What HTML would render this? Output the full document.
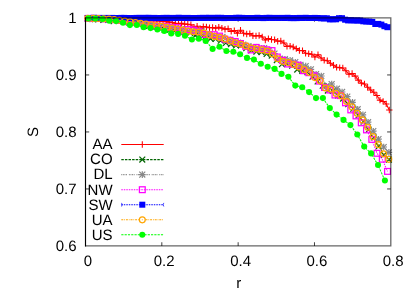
<!DOCTYPE html>
<html><head><meta charset="utf-8"><title>S vs r</title>
<style>
html,body{margin:0;padding:0;background:#fff;}
body{width:415px;height:291px;overflow:hidden;position:relative;font-family:"Liberation Sans",sans-serif;}
.t{font-family:"Liberation Sans",sans-serif;font-size:15px;fill:#000;text-rendering:geometricPrecision;}
</style></head><body>
<svg width="415" height="291" viewBox="0 0 415 291" style="position:absolute;left:0;top:0;will-change:transform">
<rect width="415" height="291" fill="#fff"/>
<path d="M161.82,17.95v3.7M238.15,17.95v3.7M314.48,17.95v3.7" fill="none" stroke="rgba(0,0,0,0.75)" stroke-width="1"/>
<path d="M88.6,18.2 L91.7,18.2 L94.8,18.3 L97.9,18.4 L101.0,18.5 L104.1,18.5 L107.2,18.6 L110.3,18.7 L113.4,18.7 L116.5,18.8 L119.6,18.9 L122.7,19.1 L125.8,19.1 L128.9,19.2 L132.0,19.2 L135.1,19.6 L138.2,19.8 L141.3,20.0 L144.4,19.8 L147.5,20.9 L150.6,20.8 L153.7,20.6 L156.8,20.6 L159.9,21.0 L163.0,21.4 L166.1,21.6 L169.2,22.1 L172.3,22.6 L175.4,23.2 L178.5,23.4 L181.6,23.2 L184.7,24.1 L187.8,24.2 L190.9,24.7 L194.0,27.3 L197.1,26.2 L200.2,28.8 L203.3,26.6 L206.4,26.9 L209.5,27.7 L212.6,27.5 L215.7,28.2 L218.8,27.2 L221.9,28.1 L225.0,29.3 L228.1,28.8 L231.2,31.4 L234.3,30.6 L237.4,33.2 L240.5,30.2 L243.6,33.2 L246.7,34.0 L249.8,33.6 L252.9,35.7 L256.0,35.9 L259.1,35.5 L262.2,36.9 L265.3,40.0 L268.4,38.6 L271.5,39.5 L274.6,39.8 L277.7,41.3 L280.8,41.0 L283.9,43.0 L287.0,46.4 L290.1,46.1 L293.2,47.0 L296.3,48.6 L299.4,50.5 L302.5,50.6 L305.6,53.3 L308.7,53.7 L311.8,54.3 L314.9,57.0 L318.0,54.8 L321.1,58.0 L324.2,60.3 L327.3,60.8 L330.4,63.3 L333.5,65.2 L336.6,67.2 L339.7,67.6 L342.8,67.9 L345.9,70.8 L349.0,74.3 L352.1,73.5 L355.2,76.1 L358.3,80.1 L361.4,83.1 L364.5,83.9 L367.6,87.2 L370.7,90.0 L373.8,92.3 L376.9,95.5 L380.0,100.1 L383.1,101.4 L386.2,103.9 L389.3,110.0" fill="none" stroke="#ff0000" stroke-width="1.05"/>
<path d="M85.4,18.2h6.4M88.6,15.0v6.4" stroke="#ff0000" stroke-width="1.05" fill="none"/><path d="M88.5,18.2h6.4M91.7,15.0v6.4" stroke="#ff0000" stroke-width="1.05" fill="none"/><path d="M91.6,18.3h6.4M94.8,15.1v6.4" stroke="#ff0000" stroke-width="1.05" fill="none"/><path d="M94.7,18.4h6.4M97.9,15.2v6.4" stroke="#ff0000" stroke-width="1.05" fill="none"/><path d="M97.8,18.5h6.4M101.0,15.3v6.4" stroke="#ff0000" stroke-width="1.05" fill="none"/><path d="M100.9,18.5h6.4M104.1,15.3v6.4" stroke="#ff0000" stroke-width="1.05" fill="none"/><path d="M104.0,18.6h6.4M107.2,15.4v6.4" stroke="#ff0000" stroke-width="1.05" fill="none"/><path d="M107.1,18.7h6.4M110.3,15.5v6.4" stroke="#ff0000" stroke-width="1.05" fill="none"/><path d="M110.2,18.7h6.4M113.4,15.5v6.4" stroke="#ff0000" stroke-width="1.05" fill="none"/><path d="M113.3,18.8h6.4M116.5,15.6v6.4" stroke="#ff0000" stroke-width="1.05" fill="none"/><path d="M116.4,18.9h6.4M119.6,15.7v6.4" stroke="#ff0000" stroke-width="1.05" fill="none"/><path d="M119.5,19.1h6.4M122.7,15.9v6.4" stroke="#ff0000" stroke-width="1.05" fill="none"/><path d="M122.6,19.1h6.4M125.8,15.9v6.4" stroke="#ff0000" stroke-width="1.05" fill="none"/><path d="M125.7,19.2h6.4M128.9,16.0v6.4" stroke="#ff0000" stroke-width="1.05" fill="none"/><path d="M128.8,19.2h6.4M132.0,16.0v6.4" stroke="#ff0000" stroke-width="1.05" fill="none"/><path d="M131.9,19.6h6.4M135.1,16.4v6.4" stroke="#ff0000" stroke-width="1.05" fill="none"/><path d="M135.0,19.8h6.4M138.2,16.6v6.4" stroke="#ff0000" stroke-width="1.05" fill="none"/><path d="M138.1,20.0h6.4M141.3,16.8v6.4" stroke="#ff0000" stroke-width="1.05" fill="none"/><path d="M141.2,19.8h6.4M144.4,16.6v6.4" stroke="#ff0000" stroke-width="1.05" fill="none"/><path d="M144.3,20.9h6.4M147.5,17.7v6.4" stroke="#ff0000" stroke-width="1.05" fill="none"/><path d="M147.4,20.8h6.4M150.6,17.6v6.4" stroke="#ff0000" stroke-width="1.05" fill="none"/><path d="M150.5,20.6h6.4M153.7,17.4v6.4" stroke="#ff0000" stroke-width="1.05" fill="none"/><path d="M153.6,20.6h6.4M156.8,17.4v6.4" stroke="#ff0000" stroke-width="1.05" fill="none"/><path d="M156.7,21.0h6.4M159.9,17.8v6.4" stroke="#ff0000" stroke-width="1.05" fill="none"/><path d="M159.8,21.4h6.4M163.0,18.2v6.4" stroke="#ff0000" stroke-width="1.05" fill="none"/><path d="M162.9,21.6h6.4M166.1,18.4v6.4" stroke="#ff0000" stroke-width="1.05" fill="none"/><path d="M166.0,22.1h6.4M169.2,18.9v6.4" stroke="#ff0000" stroke-width="1.05" fill="none"/><path d="M169.1,22.6h6.4M172.3,19.4v6.4" stroke="#ff0000" stroke-width="1.05" fill="none"/><path d="M172.2,23.2h6.4M175.4,20.0v6.4" stroke="#ff0000" stroke-width="1.05" fill="none"/><path d="M175.3,23.4h6.4M178.5,20.2v6.4" stroke="#ff0000" stroke-width="1.05" fill="none"/><path d="M178.4,23.2h6.4M181.6,20.0v6.4" stroke="#ff0000" stroke-width="1.05" fill="none"/><path d="M181.5,24.1h6.4M184.7,20.9v6.4" stroke="#ff0000" stroke-width="1.05" fill="none"/><path d="M184.6,24.2h6.4M187.8,21.0v6.4" stroke="#ff0000" stroke-width="1.05" fill="none"/><path d="M187.7,24.7h6.4M190.9,21.5v6.4" stroke="#ff0000" stroke-width="1.05" fill="none"/><path d="M190.8,27.3h6.4M194.0,24.1v6.4" stroke="#ff0000" stroke-width="1.05" fill="none"/><path d="M193.9,26.2h6.4M197.1,23.0v6.4" stroke="#ff0000" stroke-width="1.05" fill="none"/><path d="M197.0,28.8h6.4M200.2,25.6v6.4" stroke="#ff0000" stroke-width="1.05" fill="none"/><path d="M200.1,26.6h6.4M203.3,23.4v6.4" stroke="#ff0000" stroke-width="1.05" fill="none"/><path d="M203.2,26.9h6.4M206.4,23.7v6.4" stroke="#ff0000" stroke-width="1.05" fill="none"/><path d="M206.3,27.7h6.4M209.5,24.5v6.4" stroke="#ff0000" stroke-width="1.05" fill="none"/><path d="M209.4,27.5h6.4M212.6,24.3v6.4" stroke="#ff0000" stroke-width="1.05" fill="none"/><path d="M212.5,28.2h6.4M215.7,25.0v6.4" stroke="#ff0000" stroke-width="1.05" fill="none"/><path d="M215.6,27.2h6.4M218.8,24.0v6.4" stroke="#ff0000" stroke-width="1.05" fill="none"/><path d="M218.7,28.1h6.4M221.9,24.9v6.4" stroke="#ff0000" stroke-width="1.05" fill="none"/><path d="M221.8,29.3h6.4M225.0,26.1v6.4" stroke="#ff0000" stroke-width="1.05" fill="none"/><path d="M224.9,28.8h6.4M228.1,25.6v6.4" stroke="#ff0000" stroke-width="1.05" fill="none"/><path d="M228.0,31.4h6.4M231.2,28.2v6.4" stroke="#ff0000" stroke-width="1.05" fill="none"/><path d="M231.1,30.6h6.4M234.3,27.4v6.4" stroke="#ff0000" stroke-width="1.05" fill="none"/><path d="M234.2,33.2h6.4M237.4,30.0v6.4" stroke="#ff0000" stroke-width="1.05" fill="none"/><path d="M237.3,30.2h6.4M240.5,27.0v6.4" stroke="#ff0000" stroke-width="1.05" fill="none"/><path d="M240.4,33.2h6.4M243.6,30.0v6.4" stroke="#ff0000" stroke-width="1.05" fill="none"/><path d="M243.5,34.0h6.4M246.7,30.8v6.4" stroke="#ff0000" stroke-width="1.05" fill="none"/><path d="M246.6,33.6h6.4M249.8,30.4v6.4" stroke="#ff0000" stroke-width="1.05" fill="none"/><path d="M249.7,35.7h6.4M252.9,32.5v6.4" stroke="#ff0000" stroke-width="1.05" fill="none"/><path d="M252.8,35.9h6.4M256.0,32.7v6.4" stroke="#ff0000" stroke-width="1.05" fill="none"/><path d="M255.9,35.5h6.4M259.1,32.3v6.4" stroke="#ff0000" stroke-width="1.05" fill="none"/><path d="M259.0,36.9h6.4M262.2,33.7v6.4" stroke="#ff0000" stroke-width="1.05" fill="none"/><path d="M262.1,40.0h6.4M265.3,36.8v6.4" stroke="#ff0000" stroke-width="1.05" fill="none"/><path d="M265.2,38.6h6.4M268.4,35.4v6.4" stroke="#ff0000" stroke-width="1.05" fill="none"/><path d="M268.3,39.5h6.4M271.5,36.3v6.4" stroke="#ff0000" stroke-width="1.05" fill="none"/><path d="M271.4,39.8h6.4M274.6,36.6v6.4" stroke="#ff0000" stroke-width="1.05" fill="none"/><path d="M274.5,41.3h6.4M277.7,38.1v6.4" stroke="#ff0000" stroke-width="1.05" fill="none"/><path d="M277.6,41.0h6.4M280.8,37.8v6.4" stroke="#ff0000" stroke-width="1.05" fill="none"/><path d="M280.7,43.0h6.4M283.9,39.8v6.4" stroke="#ff0000" stroke-width="1.05" fill="none"/><path d="M283.8,46.4h6.4M287.0,43.2v6.4" stroke="#ff0000" stroke-width="1.05" fill="none"/><path d="M286.9,46.1h6.4M290.1,42.9v6.4" stroke="#ff0000" stroke-width="1.05" fill="none"/><path d="M290.0,47.0h6.4M293.2,43.8v6.4" stroke="#ff0000" stroke-width="1.05" fill="none"/><path d="M293.1,48.6h6.4M296.3,45.4v6.4" stroke="#ff0000" stroke-width="1.05" fill="none"/><path d="M296.2,50.5h6.4M299.4,47.3v6.4" stroke="#ff0000" stroke-width="1.05" fill="none"/><path d="M299.3,50.6h6.4M302.5,47.4v6.4" stroke="#ff0000" stroke-width="1.05" fill="none"/><path d="M302.4,53.3h6.4M305.6,50.1v6.4" stroke="#ff0000" stroke-width="1.05" fill="none"/><path d="M305.5,53.7h6.4M308.7,50.5v6.4" stroke="#ff0000" stroke-width="1.05" fill="none"/><path d="M308.6,54.3h6.4M311.8,51.1v6.4" stroke="#ff0000" stroke-width="1.05" fill="none"/><path d="M311.7,57.0h6.4M314.9,53.8v6.4" stroke="#ff0000" stroke-width="1.05" fill="none"/><path d="M314.8,54.8h6.4M318.0,51.6v6.4" stroke="#ff0000" stroke-width="1.05" fill="none"/><path d="M317.9,58.0h6.4M321.1,54.8v6.4" stroke="#ff0000" stroke-width="1.05" fill="none"/><path d="M321.0,60.3h6.4M324.2,57.1v6.4" stroke="#ff0000" stroke-width="1.05" fill="none"/><path d="M324.1,60.8h6.4M327.3,57.6v6.4" stroke="#ff0000" stroke-width="1.05" fill="none"/><path d="M327.2,63.3h6.4M330.4,60.1v6.4" stroke="#ff0000" stroke-width="1.05" fill="none"/><path d="M330.3,65.2h6.4M333.5,62.0v6.4" stroke="#ff0000" stroke-width="1.05" fill="none"/><path d="M333.4,67.2h6.4M336.6,64.0v6.4" stroke="#ff0000" stroke-width="1.05" fill="none"/><path d="M336.5,67.6h6.4M339.7,64.4v6.4" stroke="#ff0000" stroke-width="1.05" fill="none"/><path d="M339.6,67.9h6.4M342.8,64.7v6.4" stroke="#ff0000" stroke-width="1.05" fill="none"/><path d="M342.7,70.8h6.4M345.9,67.6v6.4" stroke="#ff0000" stroke-width="1.05" fill="none"/><path d="M345.8,74.3h6.4M349.0,71.1v6.4" stroke="#ff0000" stroke-width="1.05" fill="none"/><path d="M348.9,73.5h6.4M352.1,70.3v6.4" stroke="#ff0000" stroke-width="1.05" fill="none"/><path d="M352.0,76.1h6.4M355.2,72.9v6.4" stroke="#ff0000" stroke-width="1.05" fill="none"/><path d="M355.1,80.1h6.4M358.3,76.9v6.4" stroke="#ff0000" stroke-width="1.05" fill="none"/><path d="M358.2,83.1h6.4M361.4,79.9v6.4" stroke="#ff0000" stroke-width="1.05" fill="none"/><path d="M361.3,83.9h6.4M364.5,80.7v6.4" stroke="#ff0000" stroke-width="1.05" fill="none"/><path d="M364.4,87.2h6.4M367.6,84.0v6.4" stroke="#ff0000" stroke-width="1.05" fill="none"/><path d="M367.5,90.0h6.4M370.7,86.8v6.4" stroke="#ff0000" stroke-width="1.05" fill="none"/><path d="M370.6,92.3h6.4M373.8,89.1v6.4" stroke="#ff0000" stroke-width="1.05" fill="none"/><path d="M373.7,95.5h6.4M376.9,92.3v6.4" stroke="#ff0000" stroke-width="1.05" fill="none"/><path d="M376.8,100.1h6.4M380.0,96.9v6.4" stroke="#ff0000" stroke-width="1.05" fill="none"/><path d="M379.9,101.4h6.4M383.1,98.2v6.4" stroke="#ff0000" stroke-width="1.05" fill="none"/><path d="M383.0,103.9h6.4M386.2,100.7v6.4" stroke="#ff0000" stroke-width="1.05" fill="none"/><path d="M386.1,110.0h6.4M389.3,106.8v6.4" stroke="#ff0000" stroke-width="1.05" fill="none"/>
<path d="M121.3,144.5 L163.7,144.5" fill="none" stroke="#ff0000" stroke-width="1.05"/>
<path d="M139.1,144.5h6.4M142.3,141.3v6.4" stroke="#ff0000" stroke-width="1.05" fill="none"/>
<text x="112.6" y="149.3" text-anchor="end" class="t">AA</text>
<path d="M88.1,18.3 L93.2,18.3 L98.3,19.4 L103.4,19.9 L108.5,19.3 L113.6,21.2 L118.7,20.3 L123.8,21.6 L128.9,22.4 L134.0,22.4 L139.1,24.2 L144.2,26.0 L149.3,24.7 L154.4,27.0 L159.5,27.2 L164.6,29.6 L169.7,29.8 L174.8,31.1 L179.9,32.2 L185.0,33.0 L190.1,33.0 L195.2,35.6 L200.3,34.2 L205.4,36.8 L210.5,38.8 L215.6,39.0 L220.7,40.7 L225.8,43.0 L230.9,44.2 L236.0,45.4 L241.1,45.3 L246.2,48.2 L251.3,50.5 L256.4,51.7 L261.5,52.1 L266.6,53.9 L271.7,55.6 L276.8,60.1 L281.9,64.2 L287.0,64.0 L292.1,65.7 L297.2,69.6 L302.3,71.0 L307.4,72.2 L312.5,76.7 L317.6,81.5 L322.7,85.8 L327.8,90.6 L332.9,91.0 L338.0,95.5 L343.1,98.6 L348.2,104.3 L353.3,108.8 L358.4,115.4 L363.5,121.6 L368.6,129.7 L373.7,137.5 L378.8,146.1 L383.9,154.9 L389.0,159.6" fill="none" stroke="#006400" stroke-width="1.05" stroke-dasharray="2.5,1.1"/>
<path d="M85.2,15.4l5.8,5.8M85.2,21.2l5.8,-5.8" stroke="#006400" stroke-width="1.2" fill="none"/><path d="M90.3,15.4l5.8,5.8M90.3,21.2l5.8,-5.8" stroke="#006400" stroke-width="1.2" fill="none"/><path d="M95.4,16.5l5.8,5.8M95.4,22.3l5.8,-5.8" stroke="#006400" stroke-width="1.2" fill="none"/><path d="M100.5,17.0l5.8,5.8M100.5,22.8l5.8,-5.8" stroke="#006400" stroke-width="1.2" fill="none"/><path d="M105.6,16.4l5.8,5.8M105.6,22.2l5.8,-5.8" stroke="#006400" stroke-width="1.2" fill="none"/><path d="M110.7,18.3l5.8,5.8M110.7,24.1l5.8,-5.8" stroke="#006400" stroke-width="1.2" fill="none"/><path d="M115.8,17.4l5.8,5.8M115.8,23.2l5.8,-5.8" stroke="#006400" stroke-width="1.2" fill="none"/><path d="M120.9,18.7l5.8,5.8M120.9,24.5l5.8,-5.8" stroke="#006400" stroke-width="1.2" fill="none"/><path d="M126.0,19.5l5.8,5.8M126.0,25.3l5.8,-5.8" stroke="#006400" stroke-width="1.2" fill="none"/><path d="M131.1,19.5l5.8,5.8M131.1,25.3l5.8,-5.8" stroke="#006400" stroke-width="1.2" fill="none"/><path d="M136.2,21.3l5.8,5.8M136.2,27.1l5.8,-5.8" stroke="#006400" stroke-width="1.2" fill="none"/><path d="M141.3,23.1l5.8,5.8M141.3,28.9l5.8,-5.8" stroke="#006400" stroke-width="1.2" fill="none"/><path d="M146.4,21.8l5.8,5.8M146.4,27.6l5.8,-5.8" stroke="#006400" stroke-width="1.2" fill="none"/><path d="M151.5,24.1l5.8,5.8M151.5,29.9l5.8,-5.8" stroke="#006400" stroke-width="1.2" fill="none"/><path d="M156.6,24.3l5.8,5.8M156.6,30.1l5.8,-5.8" stroke="#006400" stroke-width="1.2" fill="none"/><path d="M161.7,26.7l5.8,5.8M161.7,32.5l5.8,-5.8" stroke="#006400" stroke-width="1.2" fill="none"/><path d="M166.8,26.9l5.8,5.8M166.8,32.7l5.8,-5.8" stroke="#006400" stroke-width="1.2" fill="none"/><path d="M171.9,28.2l5.8,5.8M171.9,34.0l5.8,-5.8" stroke="#006400" stroke-width="1.2" fill="none"/><path d="M177.0,29.3l5.8,5.8M177.0,35.1l5.8,-5.8" stroke="#006400" stroke-width="1.2" fill="none"/><path d="M182.1,30.1l5.8,5.8M182.1,35.9l5.8,-5.8" stroke="#006400" stroke-width="1.2" fill="none"/><path d="M187.2,30.1l5.8,5.8M187.2,35.9l5.8,-5.8" stroke="#006400" stroke-width="1.2" fill="none"/><path d="M192.3,32.7l5.8,5.8M192.3,38.5l5.8,-5.8" stroke="#006400" stroke-width="1.2" fill="none"/><path d="M197.4,31.3l5.8,5.8M197.4,37.1l5.8,-5.8" stroke="#006400" stroke-width="1.2" fill="none"/><path d="M202.5,33.9l5.8,5.8M202.5,39.7l5.8,-5.8" stroke="#006400" stroke-width="1.2" fill="none"/><path d="M207.6,35.9l5.8,5.8M207.6,41.7l5.8,-5.8" stroke="#006400" stroke-width="1.2" fill="none"/><path d="M212.7,36.1l5.8,5.8M212.7,41.9l5.8,-5.8" stroke="#006400" stroke-width="1.2" fill="none"/><path d="M217.8,37.8l5.8,5.8M217.8,43.6l5.8,-5.8" stroke="#006400" stroke-width="1.2" fill="none"/><path d="M222.9,40.1l5.8,5.8M222.9,45.9l5.8,-5.8" stroke="#006400" stroke-width="1.2" fill="none"/><path d="M228.0,41.3l5.8,5.8M228.0,47.1l5.8,-5.8" stroke="#006400" stroke-width="1.2" fill="none"/><path d="M233.1,42.5l5.8,5.8M233.1,48.3l5.8,-5.8" stroke="#006400" stroke-width="1.2" fill="none"/><path d="M238.2,42.4l5.8,5.8M238.2,48.2l5.8,-5.8" stroke="#006400" stroke-width="1.2" fill="none"/><path d="M243.3,45.3l5.8,5.8M243.3,51.1l5.8,-5.8" stroke="#006400" stroke-width="1.2" fill="none"/><path d="M248.4,47.6l5.8,5.8M248.4,53.4l5.8,-5.8" stroke="#006400" stroke-width="1.2" fill="none"/><path d="M253.5,48.8l5.8,5.8M253.5,54.6l5.8,-5.8" stroke="#006400" stroke-width="1.2" fill="none"/><path d="M258.6,49.2l5.8,5.8M258.6,55.0l5.8,-5.8" stroke="#006400" stroke-width="1.2" fill="none"/><path d="M263.7,51.0l5.8,5.8M263.7,56.8l5.8,-5.8" stroke="#006400" stroke-width="1.2" fill="none"/><path d="M268.8,52.7l5.8,5.8M268.8,58.5l5.8,-5.8" stroke="#006400" stroke-width="1.2" fill="none"/><path d="M273.9,57.2l5.8,5.8M273.9,63.0l5.8,-5.8" stroke="#006400" stroke-width="1.2" fill="none"/><path d="M279.0,61.3l5.8,5.8M279.0,67.1l5.8,-5.8" stroke="#006400" stroke-width="1.2" fill="none"/><path d="M284.1,61.1l5.8,5.8M284.1,66.9l5.8,-5.8" stroke="#006400" stroke-width="1.2" fill="none"/><path d="M289.2,62.8l5.8,5.8M289.2,68.6l5.8,-5.8" stroke="#006400" stroke-width="1.2" fill="none"/><path d="M294.3,66.7l5.8,5.8M294.3,72.5l5.8,-5.8" stroke="#006400" stroke-width="1.2" fill="none"/><path d="M299.4,68.1l5.8,5.8M299.4,73.9l5.8,-5.8" stroke="#006400" stroke-width="1.2" fill="none"/><path d="M304.5,69.3l5.8,5.8M304.5,75.1l5.8,-5.8" stroke="#006400" stroke-width="1.2" fill="none"/><path d="M309.6,73.8l5.8,5.8M309.6,79.6l5.8,-5.8" stroke="#006400" stroke-width="1.2" fill="none"/><path d="M314.7,78.6l5.8,5.8M314.7,84.4l5.8,-5.8" stroke="#006400" stroke-width="1.2" fill="none"/><path d="M319.8,82.9l5.8,5.8M319.8,88.7l5.8,-5.8" stroke="#006400" stroke-width="1.2" fill="none"/><path d="M324.9,87.7l5.8,5.8M324.9,93.5l5.8,-5.8" stroke="#006400" stroke-width="1.2" fill="none"/><path d="M330.0,88.1l5.8,5.8M330.0,93.9l5.8,-5.8" stroke="#006400" stroke-width="1.2" fill="none"/><path d="M335.1,92.6l5.8,5.8M335.1,98.4l5.8,-5.8" stroke="#006400" stroke-width="1.2" fill="none"/><path d="M340.2,95.7l5.8,5.8M340.2,101.5l5.8,-5.8" stroke="#006400" stroke-width="1.2" fill="none"/><path d="M345.3,101.4l5.8,5.8M345.3,107.2l5.8,-5.8" stroke="#006400" stroke-width="1.2" fill="none"/><path d="M350.4,105.9l5.8,5.8M350.4,111.7l5.8,-5.8" stroke="#006400" stroke-width="1.2" fill="none"/><path d="M355.5,112.5l5.8,5.8M355.5,118.3l5.8,-5.8" stroke="#006400" stroke-width="1.2" fill="none"/><path d="M360.6,118.7l5.8,5.8M360.6,124.5l5.8,-5.8" stroke="#006400" stroke-width="1.2" fill="none"/><path d="M365.7,126.8l5.8,5.8M365.7,132.6l5.8,-5.8" stroke="#006400" stroke-width="1.2" fill="none"/><path d="M370.8,134.6l5.8,5.8M370.8,140.4l5.8,-5.8" stroke="#006400" stroke-width="1.2" fill="none"/><path d="M375.9,143.2l5.8,5.8M375.9,149.0l5.8,-5.8" stroke="#006400" stroke-width="1.2" fill="none"/><path d="M381.0,152.0l5.8,5.8M381.0,157.8l5.8,-5.8" stroke="#006400" stroke-width="1.2" fill="none"/><path d="M386.1,156.7l5.8,5.8M386.1,162.5l5.8,-5.8" stroke="#006400" stroke-width="1.2" fill="none"/>
<path d="M121.3,159.6 L163.7,159.6" fill="none" stroke="#006400" stroke-width="1.05" stroke-dasharray="2.5,1.1"/>
<path d="M139.4,156.7l5.8,5.8M139.4,162.5l5.8,-5.8" stroke="#006400" stroke-width="1.2" fill="none"/>
<text x="112.6" y="164.4" text-anchor="end" class="t">CO</text>
<path d="M87.3,18.3 L92.5,19.1 L97.7,18.3 L102.9,18.9 L108.1,18.5 L113.3,18.4 L118.5,20.2 L123.7,21.0 L128.9,21.5 L134.1,22.4 L139.3,22.6 L144.5,23.2 L149.7,24.2 L154.9,26.2 L160.1,26.3 L165.3,26.3 L170.5,27.9 L175.7,28.2 L180.9,29.2 L186.1,30.9 L191.3,31.0 L196.5,30.6 L201.7,31.5 L206.9,33.8 L212.1,35.5 L217.3,37.1 L222.5,36.9 L227.7,39.7 L232.9,41.6 L238.1,42.7 L243.3,44.6 L248.5,46.3 L253.7,47.3 L258.9,49.1 L264.1,48.3 L269.3,50.1 L274.5,53.6 L279.7,58.8 L284.9,59.2 L290.1,60.4 L295.3,62.2 L300.5,64.8 L305.7,66.1 L310.9,69.3 L316.1,74.2 L321.3,76.0 L326.5,86.3 L331.7,84.0 L336.9,88.8 L342.1,92.0 L347.3,96.6 L352.5,102.4 L357.7,109.3 L362.9,114.8 L368.1,122.2 L373.3,131.2 L378.5,139.2 L383.7,147.0 L388.9,152.4" fill="none" stroke="#878787" stroke-width="1.05" stroke-dasharray="0.9,0.7,0.9,0.7,0.9,0.7,0.9,1.9"/>
<path d="M84.0,18.3h6.6M87.3,15.0v6.6" stroke="#878787" stroke-width="1.2" fill="none"/><path d="M84.3,15.3l5.9399999999999995,5.9399999999999995M84.3,21.3l5.9399999999999995,-5.9399999999999995" stroke="#878787" stroke-width="1.2" fill="none"/><path d="M89.2,19.1h6.6M92.5,15.8v6.6" stroke="#878787" stroke-width="1.2" fill="none"/><path d="M89.5,16.2l5.9399999999999995,5.9399999999999995M89.5,22.1l5.9399999999999995,-5.9399999999999995" stroke="#878787" stroke-width="1.2" fill="none"/><path d="M94.4,18.3h6.6M97.7,15.0v6.6" stroke="#878787" stroke-width="1.2" fill="none"/><path d="M94.7,15.3l5.9399999999999995,5.9399999999999995M94.7,21.3l5.9399999999999995,-5.9399999999999995" stroke="#878787" stroke-width="1.2" fill="none"/><path d="M99.6,18.9h6.6M102.9,15.6v6.6" stroke="#878787" stroke-width="1.2" fill="none"/><path d="M99.9,15.9l5.9399999999999995,5.9399999999999995M99.9,21.9l5.9399999999999995,-5.9399999999999995" stroke="#878787" stroke-width="1.2" fill="none"/><path d="M104.8,18.5h6.6M108.1,15.2v6.6" stroke="#878787" stroke-width="1.2" fill="none"/><path d="M105.1,15.6l5.9399999999999995,5.9399999999999995M105.1,21.5l5.9399999999999995,-5.9399999999999995" stroke="#878787" stroke-width="1.2" fill="none"/><path d="M110.0,18.4h6.6M113.3,15.1v6.6" stroke="#878787" stroke-width="1.2" fill="none"/><path d="M110.3,15.4l5.9399999999999995,5.9399999999999995M110.3,21.3l5.9399999999999995,-5.9399999999999995" stroke="#878787" stroke-width="1.2" fill="none"/><path d="M115.2,20.2h6.6M118.5,16.9v6.6" stroke="#878787" stroke-width="1.2" fill="none"/><path d="M115.5,17.3l5.9399999999999995,5.9399999999999995M115.5,23.2l5.9399999999999995,-5.9399999999999995" stroke="#878787" stroke-width="1.2" fill="none"/><path d="M120.4,21.0h6.6M123.7,17.7v6.6" stroke="#878787" stroke-width="1.2" fill="none"/><path d="M120.7,18.0l5.9399999999999995,5.9399999999999995M120.7,24.0l5.9399999999999995,-5.9399999999999995" stroke="#878787" stroke-width="1.2" fill="none"/><path d="M125.6,21.5h6.6M128.9,18.2v6.6" stroke="#878787" stroke-width="1.2" fill="none"/><path d="M125.9,18.5l5.9399999999999995,5.9399999999999995M125.9,24.5l5.9399999999999995,-5.9399999999999995" stroke="#878787" stroke-width="1.2" fill="none"/><path d="M130.8,22.4h6.6M134.1,19.1v6.6" stroke="#878787" stroke-width="1.2" fill="none"/><path d="M131.1,19.4l5.9399999999999995,5.9399999999999995M131.1,25.4l5.9399999999999995,-5.9399999999999995" stroke="#878787" stroke-width="1.2" fill="none"/><path d="M136.0,22.6h6.6M139.3,19.3v6.6" stroke="#878787" stroke-width="1.2" fill="none"/><path d="M136.3,19.6l5.9399999999999995,5.9399999999999995M136.3,25.5l5.9399999999999995,-5.9399999999999995" stroke="#878787" stroke-width="1.2" fill="none"/><path d="M141.2,23.2h6.6M144.5,19.9v6.6" stroke="#878787" stroke-width="1.2" fill="none"/><path d="M141.5,20.2l5.9399999999999995,5.9399999999999995M141.5,26.1l5.9399999999999995,-5.9399999999999995" stroke="#878787" stroke-width="1.2" fill="none"/><path d="M146.4,24.2h6.6M149.7,20.9v6.6" stroke="#878787" stroke-width="1.2" fill="none"/><path d="M146.7,21.2l5.9399999999999995,5.9399999999999995M146.7,27.2l5.9399999999999995,-5.9399999999999995" stroke="#878787" stroke-width="1.2" fill="none"/><path d="M151.6,26.2h6.6M154.9,22.9v6.6" stroke="#878787" stroke-width="1.2" fill="none"/><path d="M151.9,23.2l5.9399999999999995,5.9399999999999995M151.9,29.2l5.9399999999999995,-5.9399999999999995" stroke="#878787" stroke-width="1.2" fill="none"/><path d="M156.8,26.3h6.6M160.1,23.0v6.6" stroke="#878787" stroke-width="1.2" fill="none"/><path d="M157.1,23.4l5.9399999999999995,5.9399999999999995M157.1,29.3l5.9399999999999995,-5.9399999999999995" stroke="#878787" stroke-width="1.2" fill="none"/><path d="M162.0,26.3h6.6M165.3,23.0v6.6" stroke="#878787" stroke-width="1.2" fill="none"/><path d="M162.3,23.4l5.9399999999999995,5.9399999999999995M162.3,29.3l5.9399999999999995,-5.9399999999999995" stroke="#878787" stroke-width="1.2" fill="none"/><path d="M167.2,27.9h6.6M170.5,24.6v6.6" stroke="#878787" stroke-width="1.2" fill="none"/><path d="M167.5,25.0l5.9399999999999995,5.9399999999999995M167.5,30.9l5.9399999999999995,-5.9399999999999995" stroke="#878787" stroke-width="1.2" fill="none"/><path d="M172.4,28.2h6.6M175.7,24.9v6.6" stroke="#878787" stroke-width="1.2" fill="none"/><path d="M172.7,25.3l5.9399999999999995,5.9399999999999995M172.7,31.2l5.9399999999999995,-5.9399999999999995" stroke="#878787" stroke-width="1.2" fill="none"/><path d="M177.6,29.2h6.6M180.9,25.9v6.6" stroke="#878787" stroke-width="1.2" fill="none"/><path d="M177.9,26.2l5.9399999999999995,5.9399999999999995M177.9,32.2l5.9399999999999995,-5.9399999999999995" stroke="#878787" stroke-width="1.2" fill="none"/><path d="M182.8,30.9h6.6M186.1,27.6v6.6" stroke="#878787" stroke-width="1.2" fill="none"/><path d="M183.1,28.0l5.9399999999999995,5.9399999999999995M183.1,33.9l5.9399999999999995,-5.9399999999999995" stroke="#878787" stroke-width="1.2" fill="none"/><path d="M188.0,31.0h6.6M191.3,27.7v6.6" stroke="#878787" stroke-width="1.2" fill="none"/><path d="M188.3,28.0l5.9399999999999995,5.9399999999999995M188.3,33.9l5.9399999999999995,-5.9399999999999995" stroke="#878787" stroke-width="1.2" fill="none"/><path d="M193.2,30.6h6.6M196.5,27.3v6.6" stroke="#878787" stroke-width="1.2" fill="none"/><path d="M193.5,27.6l5.9399999999999995,5.9399999999999995M193.5,33.6l5.9399999999999995,-5.9399999999999995" stroke="#878787" stroke-width="1.2" fill="none"/><path d="M198.4,31.5h6.6M201.7,28.2v6.6" stroke="#878787" stroke-width="1.2" fill="none"/><path d="M198.7,28.5l5.9399999999999995,5.9399999999999995M198.7,34.4l5.9399999999999995,-5.9399999999999995" stroke="#878787" stroke-width="1.2" fill="none"/><path d="M203.6,33.8h6.6M206.9,30.5v6.6" stroke="#878787" stroke-width="1.2" fill="none"/><path d="M203.9,30.8l5.9399999999999995,5.9399999999999995M203.9,36.8l5.9399999999999995,-5.9399999999999995" stroke="#878787" stroke-width="1.2" fill="none"/><path d="M208.8,35.5h6.6M212.1,32.2v6.6" stroke="#878787" stroke-width="1.2" fill="none"/><path d="M209.1,32.6l5.9399999999999995,5.9399999999999995M209.1,38.5l5.9399999999999995,-5.9399999999999995" stroke="#878787" stroke-width="1.2" fill="none"/><path d="M214.0,37.1h6.6M217.3,33.8v6.6" stroke="#878787" stroke-width="1.2" fill="none"/><path d="M214.3,34.2l5.9399999999999995,5.9399999999999995M214.3,40.1l5.9399999999999995,-5.9399999999999995" stroke="#878787" stroke-width="1.2" fill="none"/><path d="M219.2,36.9h6.6M222.5,33.6v6.6" stroke="#878787" stroke-width="1.2" fill="none"/><path d="M219.5,33.9l5.9399999999999995,5.9399999999999995M219.5,39.9l5.9399999999999995,-5.9399999999999995" stroke="#878787" stroke-width="1.2" fill="none"/><path d="M224.4,39.7h6.6M227.7,36.4v6.6" stroke="#878787" stroke-width="1.2" fill="none"/><path d="M224.7,36.8l5.9399999999999995,5.9399999999999995M224.7,42.7l5.9399999999999995,-5.9399999999999995" stroke="#878787" stroke-width="1.2" fill="none"/><path d="M229.6,41.6h6.6M232.9,38.3v6.6" stroke="#878787" stroke-width="1.2" fill="none"/><path d="M229.9,38.6l5.9399999999999995,5.9399999999999995M229.9,44.6l5.9399999999999995,-5.9399999999999995" stroke="#878787" stroke-width="1.2" fill="none"/><path d="M234.8,42.7h6.6M238.1,39.4v6.6" stroke="#878787" stroke-width="1.2" fill="none"/><path d="M235.1,39.7l5.9399999999999995,5.9399999999999995M235.1,45.7l5.9399999999999995,-5.9399999999999995" stroke="#878787" stroke-width="1.2" fill="none"/><path d="M240.0,44.6h6.6M243.3,41.3v6.6" stroke="#878787" stroke-width="1.2" fill="none"/><path d="M240.3,41.7l5.9399999999999995,5.9399999999999995M240.3,47.6l5.9399999999999995,-5.9399999999999995" stroke="#878787" stroke-width="1.2" fill="none"/><path d="M245.2,46.3h6.6M248.5,43.0v6.6" stroke="#878787" stroke-width="1.2" fill="none"/><path d="M245.5,43.3l5.9399999999999995,5.9399999999999995M245.5,49.2l5.9399999999999995,-5.9399999999999995" stroke="#878787" stroke-width="1.2" fill="none"/><path d="M250.4,47.3h6.6M253.7,44.0v6.6" stroke="#878787" stroke-width="1.2" fill="none"/><path d="M250.7,44.3l5.9399999999999995,5.9399999999999995M250.7,50.2l5.9399999999999995,-5.9399999999999995" stroke="#878787" stroke-width="1.2" fill="none"/><path d="M255.6,49.1h6.6M258.9,45.8v6.6" stroke="#878787" stroke-width="1.2" fill="none"/><path d="M255.9,46.1l5.9399999999999995,5.9399999999999995M255.9,52.1l5.9399999999999995,-5.9399999999999995" stroke="#878787" stroke-width="1.2" fill="none"/><path d="M260.8,48.3h6.6M264.1,45.0v6.6" stroke="#878787" stroke-width="1.2" fill="none"/><path d="M261.1,45.3l5.9399999999999995,5.9399999999999995M261.1,51.2l5.9399999999999995,-5.9399999999999995" stroke="#878787" stroke-width="1.2" fill="none"/><path d="M266.0,50.1h6.6M269.3,46.8v6.6" stroke="#878787" stroke-width="1.2" fill="none"/><path d="M266.3,47.2l5.9399999999999995,5.9399999999999995M266.3,53.1l5.9399999999999995,-5.9399999999999995" stroke="#878787" stroke-width="1.2" fill="none"/><path d="M271.2,53.6h6.6M274.5,50.3v6.6" stroke="#878787" stroke-width="1.2" fill="none"/><path d="M271.5,50.6l5.9399999999999995,5.9399999999999995M271.5,56.6l5.9399999999999995,-5.9399999999999995" stroke="#878787" stroke-width="1.2" fill="none"/><path d="M276.4,58.8h6.6M279.7,55.5v6.6" stroke="#878787" stroke-width="1.2" fill="none"/><path d="M276.7,55.8l5.9399999999999995,5.9399999999999995M276.7,61.7l5.9399999999999995,-5.9399999999999995" stroke="#878787" stroke-width="1.2" fill="none"/><path d="M281.6,59.2h6.6M284.9,55.9v6.6" stroke="#878787" stroke-width="1.2" fill="none"/><path d="M281.9,56.2l5.9399999999999995,5.9399999999999995M281.9,62.2l5.9399999999999995,-5.9399999999999995" stroke="#878787" stroke-width="1.2" fill="none"/><path d="M286.8,60.4h6.6M290.1,57.1v6.6" stroke="#878787" stroke-width="1.2" fill="none"/><path d="M287.1,57.5l5.9399999999999995,5.9399999999999995M287.1,63.4l5.9399999999999995,-5.9399999999999995" stroke="#878787" stroke-width="1.2" fill="none"/><path d="M292.0,62.2h6.6M295.3,58.9v6.6" stroke="#878787" stroke-width="1.2" fill="none"/><path d="M292.3,59.2l5.9399999999999995,5.9399999999999995M292.3,65.1l5.9399999999999995,-5.9399999999999995" stroke="#878787" stroke-width="1.2" fill="none"/><path d="M297.2,64.8h6.6M300.5,61.5v6.6" stroke="#878787" stroke-width="1.2" fill="none"/><path d="M297.5,61.9l5.9399999999999995,5.9399999999999995M297.5,67.8l5.9399999999999995,-5.9399999999999995" stroke="#878787" stroke-width="1.2" fill="none"/><path d="M302.4,66.1h6.6M305.7,62.8v6.6" stroke="#878787" stroke-width="1.2" fill="none"/><path d="M302.7,63.2l5.9399999999999995,5.9399999999999995M302.7,69.1l5.9399999999999995,-5.9399999999999995" stroke="#878787" stroke-width="1.2" fill="none"/><path d="M307.6,69.3h6.6M310.9,66.0v6.6" stroke="#878787" stroke-width="1.2" fill="none"/><path d="M307.9,66.3l5.9399999999999995,5.9399999999999995M307.9,72.3l5.9399999999999995,-5.9399999999999995" stroke="#878787" stroke-width="1.2" fill="none"/><path d="M312.8,74.2h6.6M316.1,70.9v6.6" stroke="#878787" stroke-width="1.2" fill="none"/><path d="M313.1,71.2l5.9399999999999995,5.9399999999999995M313.1,77.1l5.9399999999999995,-5.9399999999999995" stroke="#878787" stroke-width="1.2" fill="none"/><path d="M318.0,76.0h6.6M321.3,72.7v6.6" stroke="#878787" stroke-width="1.2" fill="none"/><path d="M318.3,73.0l5.9399999999999995,5.9399999999999995M318.3,79.0l5.9399999999999995,-5.9399999999999995" stroke="#878787" stroke-width="1.2" fill="none"/><path d="M323.2,86.3h6.6M326.5,83.0v6.6" stroke="#878787" stroke-width="1.2" fill="none"/><path d="M323.5,83.3l5.9399999999999995,5.9399999999999995M323.5,89.2l5.9399999999999995,-5.9399999999999995" stroke="#878787" stroke-width="1.2" fill="none"/><path d="M328.4,84.0h6.6M331.7,80.7v6.6" stroke="#878787" stroke-width="1.2" fill="none"/><path d="M328.7,81.1l5.9399999999999995,5.9399999999999995M328.7,87.0l5.9399999999999995,-5.9399999999999995" stroke="#878787" stroke-width="1.2" fill="none"/><path d="M333.6,88.8h6.6M336.9,85.5v6.6" stroke="#878787" stroke-width="1.2" fill="none"/><path d="M333.9,85.8l5.9399999999999995,5.9399999999999995M333.9,91.7l5.9399999999999995,-5.9399999999999995" stroke="#878787" stroke-width="1.2" fill="none"/><path d="M338.8,92.0h6.6M342.1,88.7v6.6" stroke="#878787" stroke-width="1.2" fill="none"/><path d="M339.1,89.0l5.9399999999999995,5.9399999999999995M339.1,94.9l5.9399999999999995,-5.9399999999999995" stroke="#878787" stroke-width="1.2" fill="none"/><path d="M344.0,96.6h6.6M347.3,93.3v6.6" stroke="#878787" stroke-width="1.2" fill="none"/><path d="M344.3,93.7l5.9399999999999995,5.9399999999999995M344.3,99.6l5.9399999999999995,-5.9399999999999995" stroke="#878787" stroke-width="1.2" fill="none"/><path d="M349.2,102.4h6.6M352.5,99.1v6.6" stroke="#878787" stroke-width="1.2" fill="none"/><path d="M349.5,99.4l5.9399999999999995,5.9399999999999995M349.5,105.4l5.9399999999999995,-5.9399999999999995" stroke="#878787" stroke-width="1.2" fill="none"/><path d="M354.4,109.3h6.6M357.7,106.0v6.6" stroke="#878787" stroke-width="1.2" fill="none"/><path d="M354.7,106.3l5.9399999999999995,5.9399999999999995M354.7,112.2l5.9399999999999995,-5.9399999999999995" stroke="#878787" stroke-width="1.2" fill="none"/><path d="M359.6,114.8h6.6M362.9,111.5v6.6" stroke="#878787" stroke-width="1.2" fill="none"/><path d="M359.9,111.8l5.9399999999999995,5.9399999999999995M359.9,117.8l5.9399999999999995,-5.9399999999999995" stroke="#878787" stroke-width="1.2" fill="none"/><path d="M364.8,122.2h6.6M368.1,118.9v6.6" stroke="#878787" stroke-width="1.2" fill="none"/><path d="M365.1,119.2l5.9399999999999995,5.9399999999999995M365.1,125.2l5.9399999999999995,-5.9399999999999995" stroke="#878787" stroke-width="1.2" fill="none"/><path d="M370.0,131.2h6.6M373.3,127.9v6.6" stroke="#878787" stroke-width="1.2" fill="none"/><path d="M370.3,128.2l5.9399999999999995,5.9399999999999995M370.3,134.1l5.9399999999999995,-5.9399999999999995" stroke="#878787" stroke-width="1.2" fill="none"/><path d="M375.2,139.2h6.6M378.5,135.9v6.6" stroke="#878787" stroke-width="1.2" fill="none"/><path d="M375.5,136.2l5.9399999999999995,5.9399999999999995M375.5,142.1l5.9399999999999995,-5.9399999999999995" stroke="#878787" stroke-width="1.2" fill="none"/><path d="M380.4,147.0h6.6M383.7,143.7v6.6" stroke="#878787" stroke-width="1.2" fill="none"/><path d="M380.7,144.1l5.9399999999999995,5.9399999999999995M380.7,150.0l5.9399999999999995,-5.9399999999999995" stroke="#878787" stroke-width="1.2" fill="none"/><path d="M385.6,152.4h6.6M388.9,149.1v6.6" stroke="#878787" stroke-width="1.2" fill="none"/><path d="M385.9,149.4l5.9399999999999995,5.9399999999999995M385.9,155.3l5.9399999999999995,-5.9399999999999995" stroke="#878787" stroke-width="1.2" fill="none"/>
<path d="M121.3,174.6 L163.7,174.6" fill="none" stroke="#878787" stroke-width="1.05" stroke-dasharray="0.9,0.7,0.9,0.7,0.9,0.7,0.9,1.9"/>
<path d="M139.0,174.6h6.6M142.3,171.3v6.6" stroke="#878787" stroke-width="1.2" fill="none"/><path d="M139.3,171.6l5.9399999999999995,5.9399999999999995M139.3,177.6l5.9399999999999995,-5.9399999999999995" stroke="#878787" stroke-width="1.2" fill="none"/>
<text x="112.6" y="179.4" text-anchor="end" class="t">DL</text>
<path d="M88.2,18.4 L93.5,18.4 L98.8,18.5 L104.0,18.8 L109.2,19.1 L114.5,19.6 L119.8,20.4 L125.0,21.1 L130.2,21.8 L135.5,22.5 L140.8,22.9 L146.0,24.3 L151.2,25.1 L156.5,26.4 L161.8,26.3 L167.0,26.8 L172.2,27.6 L177.5,27.6 L182.8,30.8 L188.0,29.6 L193.2,30.1 L198.5,31.5 L203.8,34.5 L209.0,34.8 L214.2,34.7 L219.5,36.1 L224.8,39.1 L230.0,40.3 L235.2,41.5 L240.5,43.5 L245.8,46.3 L251.0,49.9 L256.2,47.4 L261.5,48.9 L266.8,49.8 L272.0,50.6 L277.2,57.0 L282.5,60.3 L287.8,64.0 L293.0,64.3 L298.2,65.2 L303.5,70.7 L308.8,72.7 L314.0,75.8 L319.2,81.1 L324.5,87.5 L329.8,90.0 L335.0,95.0 L340.2,95.6 L345.5,102.8 L350.8,109.9 L356.0,115.9 L361.2,122.8 L366.5,129.9 L371.8,139.4 L377.0,153.3 L382.2,159.2 L387.5,171.4" fill="none" stroke="#ff00ff" stroke-width="1.05" stroke-dasharray="1.5,1.0"/>
<rect x="85.3" y="15.5" width="5.8" height="5.8" stroke="#ff00ff" stroke-width="1.25" fill="none"/><rect x="90.6" y="15.5" width="5.8" height="5.8" stroke="#ff00ff" stroke-width="1.25" fill="none"/><rect x="95.8" y="15.6" width="5.8" height="5.8" stroke="#ff00ff" stroke-width="1.25" fill="none"/><rect x="101.1" y="15.9" width="5.8" height="5.8" stroke="#ff00ff" stroke-width="1.25" fill="none"/><rect x="106.3" y="16.2" width="5.8" height="5.8" stroke="#ff00ff" stroke-width="1.25" fill="none"/><rect x="111.6" y="16.7" width="5.8" height="5.8" stroke="#ff00ff" stroke-width="1.25" fill="none"/><rect x="116.8" y="17.5" width="5.8" height="5.8" stroke="#ff00ff" stroke-width="1.25" fill="none"/><rect x="122.1" y="18.2" width="5.8" height="5.8" stroke="#ff00ff" stroke-width="1.25" fill="none"/><rect x="127.3" y="18.9" width="5.8" height="5.8" stroke="#ff00ff" stroke-width="1.25" fill="none"/><rect x="132.6" y="19.6" width="5.8" height="5.8" stroke="#ff00ff" stroke-width="1.25" fill="none"/><rect x="137.8" y="20.0" width="5.8" height="5.8" stroke="#ff00ff" stroke-width="1.25" fill="none"/><rect x="143.1" y="21.4" width="5.8" height="5.8" stroke="#ff00ff" stroke-width="1.25" fill="none"/><rect x="148.3" y="22.2" width="5.8" height="5.8" stroke="#ff00ff" stroke-width="1.25" fill="none"/><rect x="153.6" y="23.5" width="5.8" height="5.8" stroke="#ff00ff" stroke-width="1.25" fill="none"/><rect x="158.8" y="23.4" width="5.8" height="5.8" stroke="#ff00ff" stroke-width="1.25" fill="none"/><rect x="164.1" y="23.9" width="5.8" height="5.8" stroke="#ff00ff" stroke-width="1.25" fill="none"/><rect x="169.3" y="24.7" width="5.8" height="5.8" stroke="#ff00ff" stroke-width="1.25" fill="none"/><rect x="174.6" y="24.7" width="5.8" height="5.8" stroke="#ff00ff" stroke-width="1.25" fill="none"/><rect x="179.8" y="27.9" width="5.8" height="5.8" stroke="#ff00ff" stroke-width="1.25" fill="none"/><rect x="185.1" y="26.7" width="5.8" height="5.8" stroke="#ff00ff" stroke-width="1.25" fill="none"/><rect x="190.3" y="27.2" width="5.8" height="5.8" stroke="#ff00ff" stroke-width="1.25" fill="none"/><rect x="195.6" y="28.6" width="5.8" height="5.8" stroke="#ff00ff" stroke-width="1.25" fill="none"/><rect x="200.8" y="31.6" width="5.8" height="5.8" stroke="#ff00ff" stroke-width="1.25" fill="none"/><rect x="206.1" y="31.9" width="5.8" height="5.8" stroke="#ff00ff" stroke-width="1.25" fill="none"/><rect x="211.3" y="31.8" width="5.8" height="5.8" stroke="#ff00ff" stroke-width="1.25" fill="none"/><rect x="216.6" y="33.2" width="5.8" height="5.8" stroke="#ff00ff" stroke-width="1.25" fill="none"/><rect x="221.8" y="36.2" width="5.8" height="5.8" stroke="#ff00ff" stroke-width="1.25" fill="none"/><rect x="227.1" y="37.4" width="5.8" height="5.8" stroke="#ff00ff" stroke-width="1.25" fill="none"/><rect x="232.3" y="38.6" width="5.8" height="5.8" stroke="#ff00ff" stroke-width="1.25" fill="none"/><rect x="237.6" y="40.6" width="5.8" height="5.8" stroke="#ff00ff" stroke-width="1.25" fill="none"/><rect x="242.8" y="43.4" width="5.8" height="5.8" stroke="#ff00ff" stroke-width="1.25" fill="none"/><rect x="248.1" y="47.0" width="5.8" height="5.8" stroke="#ff00ff" stroke-width="1.25" fill="none"/><rect x="253.3" y="44.5" width="5.8" height="5.8" stroke="#ff00ff" stroke-width="1.25" fill="none"/><rect x="258.6" y="46.0" width="5.8" height="5.8" stroke="#ff00ff" stroke-width="1.25" fill="none"/><rect x="263.9" y="46.9" width="5.8" height="5.8" stroke="#ff00ff" stroke-width="1.25" fill="none"/><rect x="269.1" y="47.7" width="5.8" height="5.8" stroke="#ff00ff" stroke-width="1.25" fill="none"/><rect x="274.4" y="54.1" width="5.8" height="5.8" stroke="#ff00ff" stroke-width="1.25" fill="none"/><rect x="279.6" y="57.4" width="5.8" height="5.8" stroke="#ff00ff" stroke-width="1.25" fill="none"/><rect x="284.9" y="61.1" width="5.8" height="5.8" stroke="#ff00ff" stroke-width="1.25" fill="none"/><rect x="290.1" y="61.4" width="5.8" height="5.8" stroke="#ff00ff" stroke-width="1.25" fill="none"/><rect x="295.4" y="62.3" width="5.8" height="5.8" stroke="#ff00ff" stroke-width="1.25" fill="none"/><rect x="300.6" y="67.8" width="5.8" height="5.8" stroke="#ff00ff" stroke-width="1.25" fill="none"/><rect x="305.9" y="69.8" width="5.8" height="5.8" stroke="#ff00ff" stroke-width="1.25" fill="none"/><rect x="311.1" y="72.9" width="5.8" height="5.8" stroke="#ff00ff" stroke-width="1.25" fill="none"/><rect x="316.4" y="78.2" width="5.8" height="5.8" stroke="#ff00ff" stroke-width="1.25" fill="none"/><rect x="321.6" y="84.6" width="5.8" height="5.8" stroke="#ff00ff" stroke-width="1.25" fill="none"/><rect x="326.9" y="87.1" width="5.8" height="5.8" stroke="#ff00ff" stroke-width="1.25" fill="none"/><rect x="332.1" y="92.1" width="5.8" height="5.8" stroke="#ff00ff" stroke-width="1.25" fill="none"/><rect x="337.4" y="92.7" width="5.8" height="5.8" stroke="#ff00ff" stroke-width="1.25" fill="none"/><rect x="342.6" y="99.9" width="5.8" height="5.8" stroke="#ff00ff" stroke-width="1.25" fill="none"/><rect x="347.9" y="107.0" width="5.8" height="5.8" stroke="#ff00ff" stroke-width="1.25" fill="none"/><rect x="353.1" y="113.0" width="5.8" height="5.8" stroke="#ff00ff" stroke-width="1.25" fill="none"/><rect x="358.4" y="119.9" width="5.8" height="5.8" stroke="#ff00ff" stroke-width="1.25" fill="none"/><rect x="363.6" y="127.0" width="5.8" height="5.8" stroke="#ff00ff" stroke-width="1.25" fill="none"/><rect x="368.9" y="136.5" width="5.8" height="5.8" stroke="#ff00ff" stroke-width="1.25" fill="none"/><rect x="374.1" y="150.4" width="5.8" height="5.8" stroke="#ff00ff" stroke-width="1.25" fill="none"/><rect x="379.4" y="156.3" width="5.8" height="5.8" stroke="#ff00ff" stroke-width="1.25" fill="none"/><rect x="384.6" y="168.5" width="5.8" height="5.8" stroke="#ff00ff" stroke-width="1.25" fill="none"/>
<path d="M121.3,189.7 L163.7,189.7" fill="none" stroke="#ff00ff" stroke-width="1.05" stroke-dasharray="1.5,1.0"/>
<rect x="139.4" y="186.8" width="5.8" height="5.8" stroke="#ff00ff" stroke-width="1.25" fill="none"/>
<text x="112.6" y="194.5" text-anchor="end" class="t">NW</text>
<path d="M88.0,18.0 L91.0,18.0 L94.0,17.8 L97.1,18.0 L100.1,17.9 L103.1,18.0 L106.1,17.9 L109.2,18.0 L112.2,17.9 L115.2,18.1 L118.2,18.1 L121.3,17.9 L124.3,17.9 L127.3,18.0 L130.3,18.1 L133.4,18.1 L136.4,17.9 L139.4,17.9 L142.4,17.9 L145.5,17.9 L148.5,17.8 L151.5,18.0 L154.5,17.9 L157.6,18.1 L160.6,18.0 L163.6,17.9 L166.6,17.9 L169.7,17.9 L172.7,18.1 L175.7,17.9 L178.7,17.8 L181.8,17.9 L184.8,18.0 L187.8,17.9 L190.8,18.1 L193.8,18.0 L196.9,18.0 L199.9,17.9 L202.9,17.9 L205.9,17.9 L209.0,17.8 L212.0,18.0 L215.0,17.8 L218.0,17.9 L221.1,17.8 L224.1,18.1 L227.1,18.0 L230.1,18.0 L233.2,18.0 L236.2,17.8 L239.2,17.8 L242.2,17.9 L245.3,18.0 L248.3,18.0 L251.3,18.0 L254.3,18.0 L257.4,17.8 L260.4,18.0 L263.4,18.1 L266.4,17.9 L269.5,17.8 L272.5,18.0 L275.5,17.9 L278.5,18.0 L281.6,17.9 L284.6,18.0 L287.6,17.8 L290.6,18.1 L293.6,18.1 L296.7,18.1 L299.7,17.9 L302.7,18.0 L305.7,17.8 L308.8,18.0 L311.8,18.0 L314.8,17.9 L317.8,18.0 L320.9,18.3 L323.9,18.4 L326.9,18.3 L329.9,19.4 L333.0,19.2 L336.0,19.3 L339.0,18.2 L342.0,18.2 L345.1,19.7 L348.1,20.4 L351.1,20.2 L354.1,20.5 L357.2,20.5 L360.2,20.5 L363.2,21.3 L366.2,21.5 L369.3,21.6 L372.3,21.9 L375.3,24.0 L378.3,23.9 L381.4,24.6 L384.4,26.2 L387.4,27.2" fill="none" stroke="#0000ff" stroke-width="1.05" stroke-dasharray="1.5,1.0"/>
<rect x="85.0" y="15.0" width="6.0" height="6.0" fill="#0000ff"/><rect x="88.0" y="15.0" width="6.0" height="6.0" fill="#0000ff"/><rect x="91.0" y="14.8" width="6.0" height="6.0" fill="#0000ff"/><rect x="94.1" y="15.0" width="6.0" height="6.0" fill="#0000ff"/><rect x="97.1" y="14.9" width="6.0" height="6.0" fill="#0000ff"/><rect x="100.1" y="15.0" width="6.0" height="6.0" fill="#0000ff"/><rect x="103.1" y="14.9" width="6.0" height="6.0" fill="#0000ff"/><rect x="106.2" y="15.0" width="6.0" height="6.0" fill="#0000ff"/><rect x="109.2" y="14.9" width="6.0" height="6.0" fill="#0000ff"/><rect x="112.2" y="15.1" width="6.0" height="6.0" fill="#0000ff"/><rect x="115.2" y="15.1" width="6.0" height="6.0" fill="#0000ff"/><rect x="118.3" y="14.9" width="6.0" height="6.0" fill="#0000ff"/><rect x="121.3" y="14.9" width="6.0" height="6.0" fill="#0000ff"/><rect x="124.3" y="15.0" width="6.0" height="6.0" fill="#0000ff"/><rect x="127.3" y="15.1" width="6.0" height="6.0" fill="#0000ff"/><rect x="130.4" y="15.1" width="6.0" height="6.0" fill="#0000ff"/><rect x="133.4" y="14.9" width="6.0" height="6.0" fill="#0000ff"/><rect x="136.4" y="14.9" width="6.0" height="6.0" fill="#0000ff"/><rect x="139.4" y="14.9" width="6.0" height="6.0" fill="#0000ff"/><rect x="142.5" y="14.9" width="6.0" height="6.0" fill="#0000ff"/><rect x="145.5" y="14.8" width="6.0" height="6.0" fill="#0000ff"/><rect x="148.5" y="15.0" width="6.0" height="6.0" fill="#0000ff"/><rect x="151.5" y="14.9" width="6.0" height="6.0" fill="#0000ff"/><rect x="154.6" y="15.1" width="6.0" height="6.0" fill="#0000ff"/><rect x="157.6" y="15.0" width="6.0" height="6.0" fill="#0000ff"/><rect x="160.6" y="14.9" width="6.0" height="6.0" fill="#0000ff"/><rect x="163.6" y="14.9" width="6.0" height="6.0" fill="#0000ff"/><rect x="166.7" y="14.9" width="6.0" height="6.0" fill="#0000ff"/><rect x="169.7" y="15.1" width="6.0" height="6.0" fill="#0000ff"/><rect x="172.7" y="14.9" width="6.0" height="6.0" fill="#0000ff"/><rect x="175.7" y="14.8" width="6.0" height="6.0" fill="#0000ff"/><rect x="178.8" y="14.9" width="6.0" height="6.0" fill="#0000ff"/><rect x="181.8" y="15.0" width="6.0" height="6.0" fill="#0000ff"/><rect x="184.8" y="14.9" width="6.0" height="6.0" fill="#0000ff"/><rect x="187.8" y="15.1" width="6.0" height="6.0" fill="#0000ff"/><rect x="190.8" y="15.0" width="6.0" height="6.0" fill="#0000ff"/><rect x="193.9" y="15.0" width="6.0" height="6.0" fill="#0000ff"/><rect x="196.9" y="14.9" width="6.0" height="6.0" fill="#0000ff"/><rect x="199.9" y="14.9" width="6.0" height="6.0" fill="#0000ff"/><rect x="202.9" y="14.9" width="6.0" height="6.0" fill="#0000ff"/><rect x="206.0" y="14.8" width="6.0" height="6.0" fill="#0000ff"/><rect x="209.0" y="15.0" width="6.0" height="6.0" fill="#0000ff"/><rect x="212.0" y="14.8" width="6.0" height="6.0" fill="#0000ff"/><rect x="215.0" y="14.9" width="6.0" height="6.0" fill="#0000ff"/><rect x="218.1" y="14.8" width="6.0" height="6.0" fill="#0000ff"/><rect x="221.1" y="15.1" width="6.0" height="6.0" fill="#0000ff"/><rect x="224.1" y="15.0" width="6.0" height="6.0" fill="#0000ff"/><rect x="227.1" y="15.0" width="6.0" height="6.0" fill="#0000ff"/><rect x="230.2" y="15.0" width="6.0" height="6.0" fill="#0000ff"/><rect x="233.2" y="14.8" width="6.0" height="6.0" fill="#0000ff"/><rect x="236.2" y="14.8" width="6.0" height="6.0" fill="#0000ff"/><rect x="239.2" y="14.9" width="6.0" height="6.0" fill="#0000ff"/><rect x="242.3" y="15.0" width="6.0" height="6.0" fill="#0000ff"/><rect x="245.3" y="15.0" width="6.0" height="6.0" fill="#0000ff"/><rect x="248.3" y="15.0" width="6.0" height="6.0" fill="#0000ff"/><rect x="251.3" y="15.0" width="6.0" height="6.0" fill="#0000ff"/><rect x="254.4" y="14.8" width="6.0" height="6.0" fill="#0000ff"/><rect x="257.4" y="15.0" width="6.0" height="6.0" fill="#0000ff"/><rect x="260.4" y="15.1" width="6.0" height="6.0" fill="#0000ff"/><rect x="263.4" y="14.9" width="6.0" height="6.0" fill="#0000ff"/><rect x="266.5" y="14.8" width="6.0" height="6.0" fill="#0000ff"/><rect x="269.5" y="15.0" width="6.0" height="6.0" fill="#0000ff"/><rect x="272.5" y="14.9" width="6.0" height="6.0" fill="#0000ff"/><rect x="275.5" y="15.0" width="6.0" height="6.0" fill="#0000ff"/><rect x="278.6" y="14.9" width="6.0" height="6.0" fill="#0000ff"/><rect x="281.6" y="15.0" width="6.0" height="6.0" fill="#0000ff"/><rect x="284.6" y="14.8" width="6.0" height="6.0" fill="#0000ff"/><rect x="287.6" y="15.1" width="6.0" height="6.0" fill="#0000ff"/><rect x="290.6" y="15.1" width="6.0" height="6.0" fill="#0000ff"/><rect x="293.7" y="15.1" width="6.0" height="6.0" fill="#0000ff"/><rect x="296.7" y="14.9" width="6.0" height="6.0" fill="#0000ff"/><rect x="299.7" y="15.0" width="6.0" height="6.0" fill="#0000ff"/><rect x="302.7" y="14.8" width="6.0" height="6.0" fill="#0000ff"/><rect x="305.8" y="15.0" width="6.0" height="6.0" fill="#0000ff"/><rect x="308.8" y="15.0" width="6.0" height="6.0" fill="#0000ff"/><rect x="311.8" y="14.9" width="6.0" height="6.0" fill="#0000ff"/><rect x="314.8" y="15.0" width="6.0" height="6.0" fill="#0000ff"/><rect x="317.9" y="15.3" width="6.0" height="6.0" fill="#0000ff"/><rect x="320.9" y="15.4" width="6.0" height="6.0" fill="#0000ff"/><rect x="323.9" y="15.3" width="6.0" height="6.0" fill="#0000ff"/><rect x="326.9" y="16.4" width="6.0" height="6.0" fill="#0000ff"/><rect x="330.0" y="16.2" width="6.0" height="6.0" fill="#0000ff"/><rect x="333.0" y="16.3" width="6.0" height="6.0" fill="#0000ff"/><rect x="336.0" y="15.2" width="6.0" height="6.0" fill="#0000ff"/><rect x="339.0" y="15.2" width="6.0" height="6.0" fill="#0000ff"/><rect x="342.1" y="16.7" width="6.0" height="6.0" fill="#0000ff"/><rect x="345.1" y="17.4" width="6.0" height="6.0" fill="#0000ff"/><rect x="348.1" y="17.2" width="6.0" height="6.0" fill="#0000ff"/><rect x="351.1" y="17.5" width="6.0" height="6.0" fill="#0000ff"/><rect x="354.2" y="17.5" width="6.0" height="6.0" fill="#0000ff"/><rect x="357.2" y="17.5" width="6.0" height="6.0" fill="#0000ff"/><rect x="360.2" y="18.3" width="6.0" height="6.0" fill="#0000ff"/><rect x="363.2" y="18.5" width="6.0" height="6.0" fill="#0000ff"/><rect x="366.3" y="18.6" width="6.0" height="6.0" fill="#0000ff"/><rect x="369.3" y="18.9" width="6.0" height="6.0" fill="#0000ff"/><rect x="372.3" y="21.0" width="6.0" height="6.0" fill="#0000ff"/><rect x="375.3" y="20.9" width="6.0" height="6.0" fill="#0000ff"/><rect x="378.4" y="21.6" width="6.0" height="6.0" fill="#0000ff"/><rect x="381.4" y="23.2" width="6.0" height="6.0" fill="#0000ff"/><rect x="384.4" y="24.2" width="6.0" height="6.0" fill="#0000ff"/>
<path d="M121.3,204.7 L163.7,204.7" fill="none" stroke="#0000ff" stroke-width="1.05" stroke-dasharray="1.5,1.0"/>
<path d="M121.6,202.89999999999998q1,1.8 0,3.6M163.79999999999998,202.89999999999998q-1.2,1.8 0,3.6" fill="none" stroke="#0000ff" stroke-width="0.9" opacity="0.8"/><rect x="139.3" y="201.7" width="6.0" height="6.0" fill="#0000ff"/>
<text x="112.6" y="209.5" text-anchor="end" class="t">SW</text>
<path d="M87.8,18.2 L93.1,18.4 L98.4,18.5 L103.7,18.7 L109.0,19.1 L114.2,19.6 L119.5,20.3 L124.8,21.1 L130.1,21.8 L135.4,22.6 L140.6,23.3 L145.9,24.0 L151.2,24.7 L156.5,25.5 L161.8,26.3 L167.0,27.2 L172.3,28.1 L177.6,29.1 L182.9,30.1 L188.2,31.1 L193.4,31.7 L198.7,32.0 L204.0,33.1 L209.3,34.9 L214.6,36.4 L219.8,37.4 L225.1,38.9 L230.4,41.0 L235.7,42.9 L241.0,44.3 L246.2,45.9 L251.5,48.0 L256.8,49.1 L262.1,49.9 L267.4,51.0 L272.6,54.0 L277.9,58.7 L283.2,61.5 L288.5,62.6 L293.8,64.5 L299.0,66.9 L304.3,69.6 L309.6,72.5 L314.9,77.6 L320.2,80.8 L325.4,88.0 L330.7,88.9 L336.0,93.6 L341.3,95.9 L346.6,101.5 L351.8,106.8 L357.1,113.3 L362.4,119.9 L367.7,127.2 L373.0,136.6 L378.2,144.6 L383.5,153.8 L388.8,159.3" fill="none" stroke="#ffa500" stroke-width="1.05" stroke-dasharray="2.0,0.9,0.8,0.9"/>
<circle cx="87.8" cy="18.2" r="2.95" stroke="#ffa500" stroke-width="1.25" fill="none"/><circle cx="87.8" cy="18.2" r="0.55" fill="#ffa500"/><circle cx="93.1" cy="18.4" r="2.95" stroke="#ffa500" stroke-width="1.25" fill="none"/><circle cx="93.1" cy="18.4" r="0.55" fill="#ffa500"/><circle cx="98.4" cy="18.5" r="2.95" stroke="#ffa500" stroke-width="1.25" fill="none"/><circle cx="98.4" cy="18.5" r="0.55" fill="#ffa500"/><circle cx="103.7" cy="18.7" r="2.95" stroke="#ffa500" stroke-width="1.25" fill="none"/><circle cx="103.7" cy="18.7" r="0.55" fill="#ffa500"/><circle cx="109.0" cy="19.1" r="2.95" stroke="#ffa500" stroke-width="1.25" fill="none"/><circle cx="109.0" cy="19.1" r="0.55" fill="#ffa500"/><circle cx="114.2" cy="19.6" r="2.95" stroke="#ffa500" stroke-width="1.25" fill="none"/><circle cx="114.2" cy="19.6" r="0.55" fill="#ffa500"/><circle cx="119.5" cy="20.3" r="2.95" stroke="#ffa500" stroke-width="1.25" fill="none"/><circle cx="119.5" cy="20.3" r="0.55" fill="#ffa500"/><circle cx="124.8" cy="21.1" r="2.95" stroke="#ffa500" stroke-width="1.25" fill="none"/><circle cx="124.8" cy="21.1" r="0.55" fill="#ffa500"/><circle cx="130.1" cy="21.8" r="2.95" stroke="#ffa500" stroke-width="1.25" fill="none"/><circle cx="130.1" cy="21.8" r="0.55" fill="#ffa500"/><circle cx="135.4" cy="22.6" r="2.95" stroke="#ffa500" stroke-width="1.25" fill="none"/><circle cx="135.4" cy="22.6" r="0.55" fill="#ffa500"/><circle cx="140.6" cy="23.3" r="2.95" stroke="#ffa500" stroke-width="1.25" fill="none"/><circle cx="140.6" cy="23.3" r="0.55" fill="#ffa500"/><circle cx="145.9" cy="24.0" r="2.95" stroke="#ffa500" stroke-width="1.25" fill="none"/><circle cx="145.9" cy="24.0" r="0.55" fill="#ffa500"/><circle cx="151.2" cy="24.7" r="2.95" stroke="#ffa500" stroke-width="1.25" fill="none"/><circle cx="151.2" cy="24.7" r="0.55" fill="#ffa500"/><circle cx="156.5" cy="25.5" r="2.95" stroke="#ffa500" stroke-width="1.25" fill="none"/><circle cx="156.5" cy="25.5" r="0.55" fill="#ffa500"/><circle cx="161.8" cy="26.3" r="2.95" stroke="#ffa500" stroke-width="1.25" fill="none"/><circle cx="161.8" cy="26.3" r="0.55" fill="#ffa500"/><circle cx="167.0" cy="27.2" r="2.95" stroke="#ffa500" stroke-width="1.25" fill="none"/><circle cx="167.0" cy="27.2" r="0.55" fill="#ffa500"/><circle cx="172.3" cy="28.1" r="2.95" stroke="#ffa500" stroke-width="1.25" fill="none"/><circle cx="172.3" cy="28.1" r="0.55" fill="#ffa500"/><circle cx="177.6" cy="29.1" r="2.95" stroke="#ffa500" stroke-width="1.25" fill="none"/><circle cx="177.6" cy="29.1" r="0.55" fill="#ffa500"/><circle cx="182.9" cy="30.1" r="2.95" stroke="#ffa500" stroke-width="1.25" fill="none"/><circle cx="182.9" cy="30.1" r="0.55" fill="#ffa500"/><circle cx="188.2" cy="31.1" r="2.95" stroke="#ffa500" stroke-width="1.25" fill="none"/><circle cx="188.2" cy="31.1" r="0.55" fill="#ffa500"/><circle cx="193.4" cy="31.7" r="2.95" stroke="#ffa500" stroke-width="1.25" fill="none"/><circle cx="193.4" cy="31.7" r="0.55" fill="#ffa500"/><circle cx="198.7" cy="32.0" r="2.95" stroke="#ffa500" stroke-width="1.25" fill="none"/><circle cx="198.7" cy="32.0" r="0.55" fill="#ffa500"/><circle cx="204.0" cy="33.1" r="2.95" stroke="#ffa500" stroke-width="1.25" fill="none"/><circle cx="204.0" cy="33.1" r="0.55" fill="#ffa500"/><circle cx="209.3" cy="34.9" r="2.95" stroke="#ffa500" stroke-width="1.25" fill="none"/><circle cx="209.3" cy="34.9" r="0.55" fill="#ffa500"/><circle cx="214.6" cy="36.4" r="2.95" stroke="#ffa500" stroke-width="1.25" fill="none"/><circle cx="214.6" cy="36.4" r="0.55" fill="#ffa500"/><circle cx="219.8" cy="37.4" r="2.95" stroke="#ffa500" stroke-width="1.25" fill="none"/><circle cx="219.8" cy="37.4" r="0.55" fill="#ffa500"/><circle cx="225.1" cy="38.9" r="2.95" stroke="#ffa500" stroke-width="1.25" fill="none"/><circle cx="225.1" cy="38.9" r="0.55" fill="#ffa500"/><circle cx="230.4" cy="41.0" r="2.95" stroke="#ffa500" stroke-width="1.25" fill="none"/><circle cx="230.4" cy="41.0" r="0.55" fill="#ffa500"/><circle cx="235.7" cy="42.9" r="2.95" stroke="#ffa500" stroke-width="1.25" fill="none"/><circle cx="235.7" cy="42.9" r="0.55" fill="#ffa500"/><circle cx="241.0" cy="44.3" r="2.95" stroke="#ffa500" stroke-width="1.25" fill="none"/><circle cx="241.0" cy="44.3" r="0.55" fill="#ffa500"/><circle cx="246.2" cy="45.9" r="2.95" stroke="#ffa500" stroke-width="1.25" fill="none"/><circle cx="246.2" cy="45.9" r="0.55" fill="#ffa500"/><circle cx="251.5" cy="48.0" r="2.95" stroke="#ffa500" stroke-width="1.25" fill="none"/><circle cx="251.5" cy="48.0" r="0.55" fill="#ffa500"/><circle cx="256.8" cy="49.1" r="2.95" stroke="#ffa500" stroke-width="1.25" fill="none"/><circle cx="256.8" cy="49.1" r="0.55" fill="#ffa500"/><circle cx="262.1" cy="49.9" r="2.95" stroke="#ffa500" stroke-width="1.25" fill="none"/><circle cx="262.1" cy="49.9" r="0.55" fill="#ffa500"/><circle cx="267.4" cy="51.0" r="2.95" stroke="#ffa500" stroke-width="1.25" fill="none"/><circle cx="267.4" cy="51.0" r="0.55" fill="#ffa500"/><circle cx="272.6" cy="54.0" r="2.95" stroke="#ffa500" stroke-width="1.25" fill="none"/><circle cx="272.6" cy="54.0" r="0.55" fill="#ffa500"/><circle cx="277.9" cy="58.7" r="2.95" stroke="#ffa500" stroke-width="1.25" fill="none"/><circle cx="277.9" cy="58.7" r="0.55" fill="#ffa500"/><circle cx="283.2" cy="61.5" r="2.95" stroke="#ffa500" stroke-width="1.25" fill="none"/><circle cx="283.2" cy="61.5" r="0.55" fill="#ffa500"/><circle cx="288.5" cy="62.6" r="2.95" stroke="#ffa500" stroke-width="1.25" fill="none"/><circle cx="288.5" cy="62.6" r="0.55" fill="#ffa500"/><circle cx="293.8" cy="64.5" r="2.95" stroke="#ffa500" stroke-width="1.25" fill="none"/><circle cx="293.8" cy="64.5" r="0.55" fill="#ffa500"/><circle cx="299.0" cy="66.9" r="2.95" stroke="#ffa500" stroke-width="1.25" fill="none"/><circle cx="299.0" cy="66.9" r="0.55" fill="#ffa500"/><circle cx="304.3" cy="69.6" r="2.95" stroke="#ffa500" stroke-width="1.25" fill="none"/><circle cx="304.3" cy="69.6" r="0.55" fill="#ffa500"/><circle cx="309.6" cy="72.5" r="2.95" stroke="#ffa500" stroke-width="1.25" fill="none"/><circle cx="309.6" cy="72.5" r="0.55" fill="#ffa500"/><circle cx="314.9" cy="77.6" r="2.95" stroke="#ffa500" stroke-width="1.25" fill="none"/><circle cx="314.9" cy="77.6" r="0.55" fill="#ffa500"/><circle cx="320.2" cy="80.8" r="2.95" stroke="#ffa500" stroke-width="1.25" fill="none"/><circle cx="320.2" cy="80.8" r="0.55" fill="#ffa500"/><circle cx="325.4" cy="88.0" r="2.95" stroke="#ffa500" stroke-width="1.25" fill="none"/><circle cx="325.4" cy="88.0" r="0.55" fill="#ffa500"/><circle cx="330.7" cy="88.9" r="2.95" stroke="#ffa500" stroke-width="1.25" fill="none"/><circle cx="330.7" cy="88.9" r="0.55" fill="#ffa500"/><circle cx="336.0" cy="93.6" r="2.95" stroke="#ffa500" stroke-width="1.25" fill="none"/><circle cx="336.0" cy="93.6" r="0.55" fill="#ffa500"/><circle cx="341.3" cy="95.9" r="2.95" stroke="#ffa500" stroke-width="1.25" fill="none"/><circle cx="341.3" cy="95.9" r="0.55" fill="#ffa500"/><circle cx="346.6" cy="101.5" r="2.95" stroke="#ffa500" stroke-width="1.25" fill="none"/><circle cx="346.6" cy="101.5" r="0.55" fill="#ffa500"/><circle cx="351.8" cy="106.8" r="2.95" stroke="#ffa500" stroke-width="1.25" fill="none"/><circle cx="351.8" cy="106.8" r="0.55" fill="#ffa500"/><circle cx="357.1" cy="113.3" r="2.95" stroke="#ffa500" stroke-width="1.25" fill="none"/><circle cx="357.1" cy="113.3" r="0.55" fill="#ffa500"/><circle cx="362.4" cy="119.9" r="2.95" stroke="#ffa500" stroke-width="1.25" fill="none"/><circle cx="362.4" cy="119.9" r="0.55" fill="#ffa500"/><circle cx="367.7" cy="127.2" r="2.95" stroke="#ffa500" stroke-width="1.25" fill="none"/><circle cx="367.7" cy="127.2" r="0.55" fill="#ffa500"/><circle cx="373.0" cy="136.6" r="2.95" stroke="#ffa500" stroke-width="1.25" fill="none"/><circle cx="373.0" cy="136.6" r="0.55" fill="#ffa500"/><circle cx="378.2" cy="144.6" r="2.95" stroke="#ffa500" stroke-width="1.25" fill="none"/><circle cx="378.2" cy="144.6" r="0.55" fill="#ffa500"/><circle cx="383.5" cy="153.8" r="2.95" stroke="#ffa500" stroke-width="1.25" fill="none"/><circle cx="383.5" cy="153.8" r="0.55" fill="#ffa500"/><circle cx="388.8" cy="159.3" r="2.95" stroke="#ffa500" stroke-width="1.25" fill="none"/><circle cx="388.8" cy="159.3" r="0.55" fill="#ffa500"/>
<path d="M121.3,219.8 L139.1,219.8" fill="none" stroke="#ffa500" stroke-width="1.05" stroke-dasharray="2.0,0.9,0.8,0.9"/>
<path d="M145.5,219.8 L163.2,219.8" fill="none" stroke="#ffa500" stroke-width="1.05" stroke-dasharray="2.0,0.9,0.8,0.9"/>
<circle cx="142.3" cy="219.8" r="2.95" stroke="#ffa500" stroke-width="1.25" fill="none"/><circle cx="142.3" cy="219.8" r="0.55" fill="#ffa500"/>
<text x="112.6" y="224.6" text-anchor="end" class="t">UA</text>
<path d="M88.5,18.4 L95.4,18.6 L102.3,19.1 L109.2,20.7 L116.1,21.0 L123.0,22.7 L129.9,25.1 L136.8,25.0 L143.6,27.3 L150.5,28.1 L157.4,29.5 L164.3,31.0 L171.2,33.4 L178.1,33.9 L185.0,35.7 L191.9,39.5 L198.8,38.7 L205.7,40.9 L212.6,48.9 L219.5,46.7 L226.4,51.0 L233.3,51.8 L240.1,54.3 L247.0,57.9 L253.9,59.6 L260.8,63.8 L267.7,66.7 L274.6,68.9 L281.5,73.9 L288.4,76.8 L295.3,85.6 L302.2,87.3 L309.1,92.1 L316.0,98.1 L322.9,98.1 L329.8,108.1 L336.6,114.6 L343.5,119.9 L350.4,125.1 L357.3,134.5 L364.2,146.6 L371.1,153.4 L378.0,165.0 L384.9,180.5" fill="none" stroke="#00ff00" stroke-width="1.05" stroke-dasharray="2.2,1.1"/>
<circle cx="88.5" cy="18.4" r="3.05" fill="#00ff00"/><circle cx="95.4" cy="18.6" r="3.05" fill="#00ff00"/><circle cx="102.3" cy="19.1" r="3.05" fill="#00ff00"/><circle cx="109.2" cy="20.7" r="3.05" fill="#00ff00"/><circle cx="116.1" cy="21.0" r="3.05" fill="#00ff00"/><circle cx="123.0" cy="22.7" r="3.05" fill="#00ff00"/><circle cx="129.9" cy="25.1" r="3.05" fill="#00ff00"/><circle cx="136.8" cy="25.0" r="3.05" fill="#00ff00"/><circle cx="143.6" cy="27.3" r="3.05" fill="#00ff00"/><circle cx="150.5" cy="28.1" r="3.05" fill="#00ff00"/><circle cx="157.4" cy="29.5" r="3.05" fill="#00ff00"/><circle cx="164.3" cy="31.0" r="3.05" fill="#00ff00"/><circle cx="171.2" cy="33.4" r="3.05" fill="#00ff00"/><circle cx="178.1" cy="33.9" r="3.05" fill="#00ff00"/><circle cx="185.0" cy="35.7" r="3.05" fill="#00ff00"/><circle cx="191.9" cy="39.5" r="3.05" fill="#00ff00"/><circle cx="198.8" cy="38.7" r="3.05" fill="#00ff00"/><circle cx="205.7" cy="40.9" r="3.05" fill="#00ff00"/><circle cx="212.6" cy="48.9" r="3.05" fill="#00ff00"/><circle cx="219.5" cy="46.7" r="3.05" fill="#00ff00"/><circle cx="226.4" cy="51.0" r="3.05" fill="#00ff00"/><circle cx="233.3" cy="51.8" r="3.05" fill="#00ff00"/><circle cx="240.1" cy="54.3" r="3.05" fill="#00ff00"/><circle cx="247.0" cy="57.9" r="3.05" fill="#00ff00"/><circle cx="253.9" cy="59.6" r="3.05" fill="#00ff00"/><circle cx="260.8" cy="63.8" r="3.05" fill="#00ff00"/><circle cx="267.7" cy="66.7" r="3.05" fill="#00ff00"/><circle cx="274.6" cy="68.9" r="3.05" fill="#00ff00"/><circle cx="281.5" cy="73.9" r="3.05" fill="#00ff00"/><circle cx="288.4" cy="76.8" r="3.05" fill="#00ff00"/><circle cx="295.3" cy="85.6" r="3.05" fill="#00ff00"/><circle cx="302.2" cy="87.3" r="3.05" fill="#00ff00"/><circle cx="309.1" cy="92.1" r="3.05" fill="#00ff00"/><circle cx="316.0" cy="98.1" r="3.05" fill="#00ff00"/><circle cx="322.9" cy="98.1" r="3.05" fill="#00ff00"/><circle cx="329.8" cy="108.1" r="3.05" fill="#00ff00"/><circle cx="336.6" cy="114.6" r="3.05" fill="#00ff00"/><circle cx="343.5" cy="119.9" r="3.05" fill="#00ff00"/><circle cx="350.4" cy="125.1" r="3.05" fill="#00ff00"/><circle cx="357.3" cy="134.5" r="3.05" fill="#00ff00"/><circle cx="364.2" cy="146.6" r="3.05" fill="#00ff00"/><circle cx="371.1" cy="153.4" r="3.05" fill="#00ff00"/><circle cx="378.0" cy="165.0" r="3.05" fill="#00ff00"/><circle cx="384.9" cy="180.5" r="3.05" fill="#00ff00"/>
<path d="M121.3,234.8 L163.7,234.8" fill="none" stroke="#00ff00" stroke-width="1.05" stroke-dasharray="2.2,1.1"/>
<circle cx="142.3" cy="234.8" r="3.05" fill="#00ff00"/>
<text x="112.6" y="239.7" text-anchor="end" class="t">US</text>
<path d="M85.5,17.95H390.8V245.95H85.5" fill="none" stroke="rgba(0,0,0,0.6)" stroke-width="1.3"/>
<path d="M85.5,17.349999999999998V246.54999999999998" fill="none" stroke="#000" stroke-width="1.15"/>
<path d="M161.82,245.95v-3.7M85.5,188.95h3.7M390.8,188.95h-3.7M238.15,245.95v-3.7M85.5,131.95h3.7M390.8,131.95h-3.7M314.48,245.95v-3.7M85.5,74.95h3.7M390.8,74.95h-3.7" fill="none" stroke="rgba(0,0,0,0.75)" stroke-width="1"/>
<text x="76.6" y="251.3" text-anchor="end" class="t">0.6</text>
<text x="76.6" y="194.3" text-anchor="end" class="t">0.7</text>
<text x="76.6" y="137.3" text-anchor="end" class="t">0.8</text>
<text x="76.6" y="80.3" text-anchor="end" class="t">0.9</text>
<text x="76.6" y="23.3" text-anchor="end" class="t">1</text>
<text x="87.9" y="265.6" text-anchor="middle" class="t">0</text>
<text x="164.2" y="265.6" text-anchor="middle" class="t">0.2</text>
<text x="240.6" y="265.6" text-anchor="middle" class="t">0.4</text>
<text x="316.9" y="265.6" text-anchor="middle" class="t">0.6</text>
<text x="393.2" y="265.6" text-anchor="middle" class="t">0.8</text>
<text x="238.8" y="288.2" text-anchor="middle" class="t">r</text>
<text transform="translate(38.4,132.1) rotate(-90)" text-anchor="middle" class="t">S</text>
</svg>
</body></html>
